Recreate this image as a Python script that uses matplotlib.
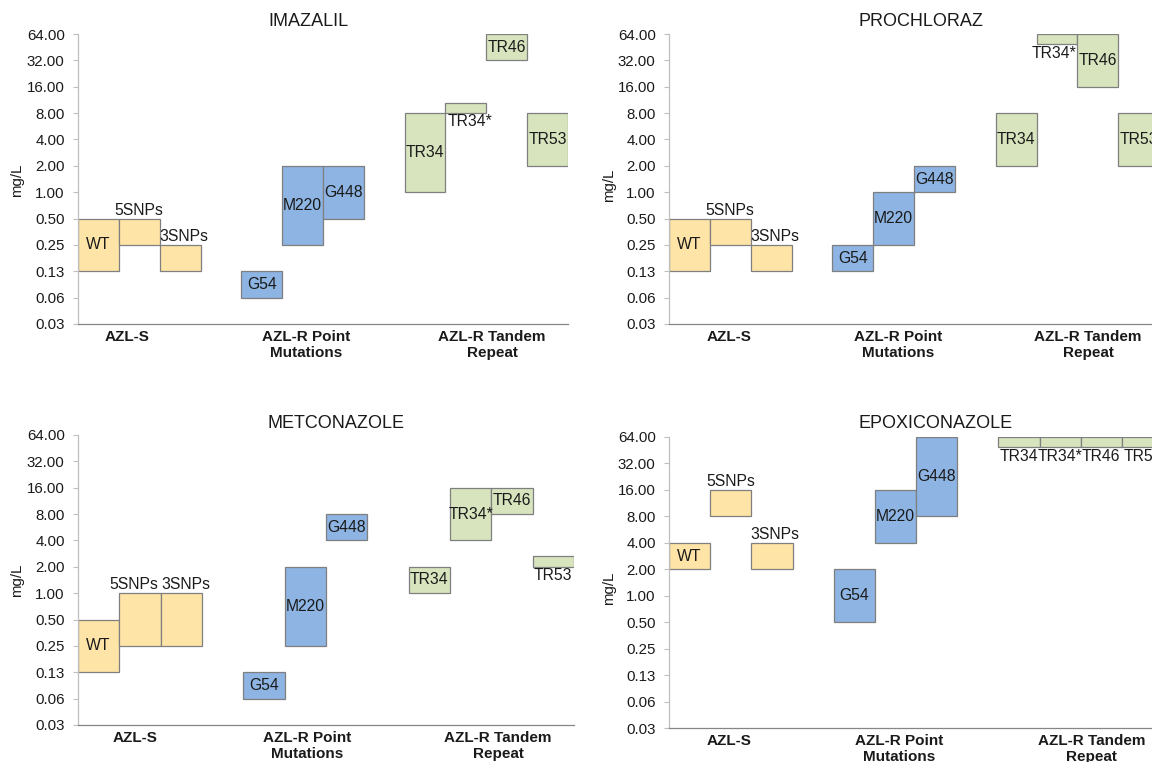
import matplotlib
matplotlib.use("Agg")
import matplotlib.pyplot as plt
from matplotlib.transforms import blended_transform_factory

plt.rcParams['font.family'] = ['Liberation Sans', 'DejaVu Sans']

# ---- data -------------------------------------------------------------
strains = ["WT", "5SNPs", "3SNPs", "G54", "M220", "G448",
           "TR34", "TR34*", "TR46", "TR53"]
groups = ["AZL-S", "AZL-S", "AZL-S",
          "AZL-R Point\nMutations", "AZL-R Point\nMutations", "AZL-R Point\nMutations",
          "AZL-R Tandem\nRepeat", "AZL-R Tandem\nRepeat", "AZL-R Tandem\nRepeat",
          "AZL-R Tandem\nRepeat"]

drugs = ["IMAZALIL", "PROCHLORAZ", "METCONAZOLE", "EPOXICONAZOLE"]

# MIC ranges (mg/L): lower and upper bound per strain
imazalil_low = [0.125, 0.25, 0.125, 0.0625, 0.25, 0.5, 1, 8, 32, 2]
imazalil_high = [0.5, 0.5, 0.25, 0.125, 2, 2, 8, 10.4, 64, 8]
prochloraz_low = [0.125, 0.25, 0.125, 0.125, 0.25, 1, 2, 49, 16, 2]
prochloraz_high = [0.5, 0.5, 0.25, 0.25, 1, 2, 8, 64, 64, 8]
metconazole_low = [0.125, 0.25, 0.25, 0.0625, 0.25, 4, 1, 4, 8, 2]
metconazole_high = [0.5, 1, 1, 0.125, 2, 8, 2, 16, 16, 2.67]
epoxiconazole_low = [2, 8, 2, 0.5, 4, 8, 49, 49, 49, 49]
epoxiconazole_high = [4, 16, 4, 2, 16, 64, 64, 64, 64, 64]

# where each strain name sits: c = centred, a = above bar, b = below bar
imazalil_lab = ['c', 'a', 'a', 'c', 'c', 'c', 'c', 'b', 'c', 'c']
prochloraz_lab = ['c', 'a', 'a', 'c', 'c', 'c', 'c', 'b', 'c', 'c']
metconazole_lab = ['c', 'a', 'a', 'c', 'c', 'c', 'c', 'c', 'c', 'b']
epoxiconazole_lab = ['c', 'a', 'a', 'c', 'c', 'c', 'b', 'b', 'b', 'b']

ytick_values = [0.03125, 0.0625, 0.125, 0.25, 0.5, 1, 2, 4, 8, 16, 32, 64]
ytick_labels = ["0.03", "0.06", "0.13", "0.25", "0.50", "1.00",
                "2.00", "4.00", "8.00", "16.00", "32.00", "64.00"]

group_colors = {"AZL-S": "#FEE4A6",
                "AZL-R Point\nMutations": "#8DB4E2",
                "AZL-R Tandem\nRepeat": "#D7E4BD"}

# ---- layout (pixels in a 1152 x 762 canvas) ----------------------------
W, H = 1152, 762
panels = [
    dict(low=imazalil_low, high=imazalil_high, lab=imazalil_lab,
         rect=(78, 34, 490, 324), title=(308, 21), ylab=(17, 180),
         cat_x=[1.2, 5.58, 10.14], nudge={"3SNPs": 3, "TR34*": 3}),
    dict(low=prochloraz_low, high=prochloraz_high, lab=prochloraz_lab,
         rect=(669, 34, 490, 324), title=(921, 21), ylab=(609, 185),
         cat_x=[1.46, 5.6, 10.26], nudge={"3SNPs": 3, "TR34*": -2}),
    dict(low=metconazole_low, high=metconazole_high, lab=metconazole_lab,
         rect=(78, 435, 496, 725), title=(336, 423), ylab=(17, 580),
         cat_x=[1.38, 5.54, 10.16], nudge={"5SNPs": -4.5, "3SNPs": 3.5}),
    dict(low=epoxiconazole_low, high=epoxiconazole_high, lab=epoxiconazole_lab,
         rect=(669, 437, 494, 728), title=(936, 423), ylab=(609, 588),
         cat_x=[1.46, 5.6, 10.26], nudge={"3SNPs": 2}),
]

text_color = "#1a1a1a"
fig = plt.figure(figsize=(W / 100, H / 100), dpi=100)

# slot index of every strain: one empty slot between groups
group_order = []
for g in groups:
    if g not in group_order:
        group_order.append(g)
slots = [i + group_order.index(g) for i, g in enumerate(groups)]

for drug, p in zip(drugs, panels):
    x0, yt, w, yb = p["rect"]
    ax = fig.add_axes([x0 / W, 1 - yb / H, w / W, (yb - yt) / H])
    ax.set_yscale('log', base=2)
    ax.set_ylim(ytick_values[0], ytick_values[-1])
    ax.set_xlim(0, 12)
    ax.set_yticks(ytick_values)
    ax.set_yticklabels(ytick_labels)
    ax.minorticks_off()
    ax.set_xticks([])
    ax.tick_params(axis='y', length=3.6, width=0.8, color="#BFBFBF",
                   labelsize=10.8, labelcolor=text_color, pad=6)
    for s in ("top", "right"):
        ax.spines[s].set_visible(False)
    ax.spines["left"].set_color("#BFBFBF")
    ax.spines["bottom"].set_color("#868686")
    ax.spines["left"].set_linewidth(0.9)
    ax.spines["bottom"].set_linewidth(0.9)

    for name, g, slot, lo, hi, pos in zip(strains, groups, slots,
                                          p["low"], p["high"], p["lab"]):
        ax.bar(slot, hi - lo, bottom=lo, width=1.0, align='edge',
               color=group_colors[g], edgecolor="#7F7F7F", linewidth=0.9,
               zorder=2)
        xc = slot + 0.5
        dx = p["nudge"].get(name, 0)
        if pos == 'c':
            ax.annotate(name, (xc, (lo * hi) ** 0.5), xytext=(dx, 0),
                        textcoords='offset points', ha='center',
                        va='center', fontsize=11.3, color=text_color,
                        zorder=3)
        elif pos == 'a':
            ax.annotate(name, (xc, hi), xytext=(dx, 0.5),
                        textcoords='offset points', ha='center',
                        va='bottom', fontsize=11.3, color=text_color)
        else:
            ax.annotate(name, (xc, lo), xytext=(dx, -1),
                        textcoords='offset points', ha='center',
                        va='top', fontsize=11.3, color=text_color)

    trans = blended_transform_factory(ax.transData, ax.transAxes)
    for cx, g in zip(p["cat_x"], group_order):
        ax.annotate(g, (cx, 0), xycoords=trans, xytext=(0, -4),
                    textcoords='offset points', ha='center', va='top',
                    fontsize=11, fontweight='bold', color=text_color,
                    linespacing=1.25, annotation_clip=False)

    tx, ty = p["title"]
    fig.text(tx / W, 1 - ty / H, drug, ha='center', va='center',
             fontsize=13, color=text_color)
    lx, ly = p["ylab"]
    fig.text(lx / W, 1 - ly / H, "mg/L", ha='center', va='center',
             rotation=90, fontsize=10.8, color=text_color)

fig.savefig("out.png", dpi=100, facecolor="white")
